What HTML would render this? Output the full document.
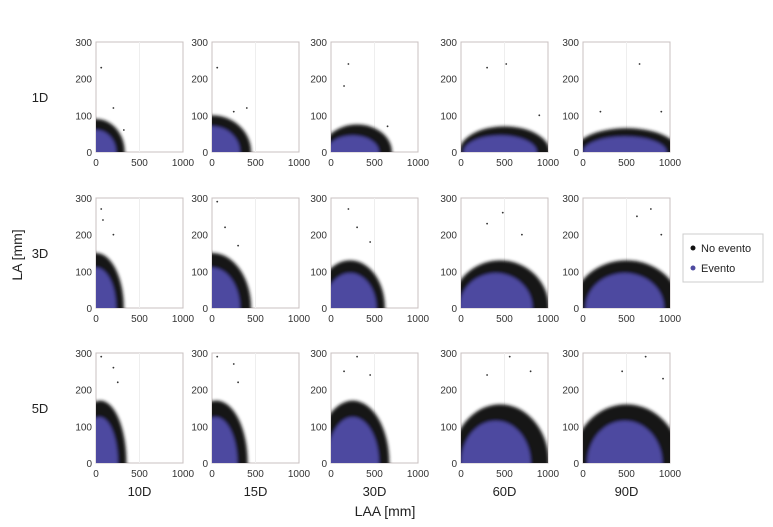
<!DOCTYPE html>
<html><head><meta charset="utf-8"><style>
body{margin:0;background:#fff;font-family:"Liberation Sans",sans-serif}
svg text{font-family:"Liberation Sans",sans-serif}
</style></head><body>
<svg id="c" width="773" height="522"></svg>
<script>
const rows=["1D","3D","5D"];
const cols=["10D","15D","30D","60D","90D"];
const xTicks=[0,500,1000];
const yTicks=[0,100,200,300];
// cloud extents per panel [row][col]: [centerX, radiusX, radiusY]
const blackCloud=[
 [[0,330,90],[0,450,100],[300,400,75],[500,520,70],[500,600,65]],
 [[0,320,150],[0,450,150],[220,400,130],[450,560,130],[500,620,130]],
 [[50,300,170],[50,360,170],[250,420,170],[450,560,160],[500,620,160]]];
const blueCloud=[
 [[0,230,60],[0,320,70],[250,300,45],[450,420,45],[480,480,42]],
 [[0,230,110],[0,320,110],[220,300,95],[400,420,95],[480,450,95]],
 [[40,210,125],[40,250,125],[250,300,125],[400,400,115],[480,430,115]]];
// outlier points [row][col] -> list of [x,y]
const outliers=[
 [[[60,230],[200,120],[320,60]],[[60,230],[400,120],[250,110]],[[200,240],[650,70],[150,180]],[[300,230],[520,240],[900,100]],[[650,240],[200,110],[900,110]]],
 [[[60,270],[80,240],[200,200]],[[60,290],[150,220],[300,170]],[[200,270],[300,220],[450,180]],[[480,260],[300,230],[700,200]],[[780,270],[620,250],[900,200]]],
 [[[60,290],[200,260],[250,220]],[[60,290],[250,270],[300,220]],[[300,290],[450,240],[150,250]],[[560,290],[300,240],[800,250]],[[720,290],[450,250],[920,230]]]];
const colX=[96,212,331,461,583], rowY=[42,198,353], W=87, H=110;
const NS="http://www.w3.org/2000/svg", svg=document.getElementById('c');
function mk(t,a,p){const e=document.createElementNS(NS,t);for(const k in a)e.setAttribute(k,a[k]);(p||svg).appendChild(e);return e;}
function sx(c,v){return colX[c]+v/1000*W;}
function sy(r,v){return rowY[r]+H-v/300*H;}
const defs=mk('defs',{});
const fl=mk('filter',{id:'soft',x:'-10%',y:'-10%',width:'120%',height:'120%'},defs);
mk('feGaussianBlur',{stdDeviation:1.6},fl);
rows.forEach((rl,r)=>{cols.forEach((cl,c)=>{
 const g=mk('g',{});
 
 
 const cp=mk('clipPath',{id:'cp'+r+c},defs);mk('rect',{x:colX[c],y:rowY[r],width:W,height:H},cp);
 mk('rect',{x:colX[c],y:rowY[r],width:W,height:H,fill:'#fff',stroke:'#c8c0c0','stroke-width':1},g);
 mk('line',{x1:sx(c,500),x2:sx(c,500),y1:rowY[r],y2:rowY[r]+H,stroke:'#eee'},g);
 const cg=mk('g',{'clip-path':'url(#cp'+r+c+')'},g);
 const sg=mk('g',{filter:'url(#soft)'},cg);
 const b=blackCloud[r][c];
 const e1=mk('ellipse',{cx:sx(c,b[0]),cy:sy(r,0),rx:b[1]/1000*W,ry:b[2]/300*H,fill:'#151515'},sg);
 
 
 const u=blueCloud[r][c];
 const e2=mk('ellipse',{cx:sx(c,u[0]),cy:sy(r,0),rx:u[1]/1000*W,ry:u[2]/300*H,fill:'#4e4aa0'},sg);
 
 
 outliers[r][c].forEach(p=>{const d=mk('circle',{cx:sx(c,p[0]),cy:sy(r,p[1]),r:0.9,fill:'#333'},cg);
  
  });
 xTicks.forEach(t=>{const tx=mk('text',{x:sx(c,t),y:rowY[r]+H+14,'font-size':10,'text-anchor':'middle',fill:'#333'},g);tx.textContent=t;
  
  });
 yTicks.forEach(t=>{const ty=mk('text',{x:colX[c]-4,y:sy(r,t)+4,'font-size':10,'text-anchor':'end',fill:'#333'},g);ty.textContent=t;
  
  });
});
 const t=mk('text',{x:40,y:rowY[r]+H/2+5,'font-size':13,'text-anchor':'middle',fill:'#222'});t.textContent=rl;
 
 
});
cols.forEach((cl,c)=>{const t=mk('text',{x:colX[c]+W/2,y:496,'font-size':13,'text-anchor':'middle',fill:'#222'});t.textContent=cl;
 
 });
const xt=mk('text',{x:385,y:516,'font-size':14,'text-anchor':'middle',fill:'#222'});xt.textContent='LAA [mm]';


const yt=mk('text',{x:22,y:255,'font-size':14,'text-anchor':'middle',fill:'#222',transform:'rotate(-90 22 255)'});yt.textContent='LA [mm]';


const lg=mk('g',{});


mk('rect',{x:683,y:234,width:80,height:48,fill:'#fff',stroke:'#ccc'},lg);
mk('circle',{cx:693,cy:248,r:2.5,fill:'#111'},lg);
mk('circle',{cx:693,cy:268,r:2.5,fill:'#4e4aa0'},lg);
const l1=mk('text',{x:701,y:252,'font-size':11,fill:'#222'},lg);l1.textContent='No evento';
const l2=mk('text',{x:701,y:272,'font-size':11,fill:'#222'},lg);l2.textContent='Evento';
</script>
</body></html>
